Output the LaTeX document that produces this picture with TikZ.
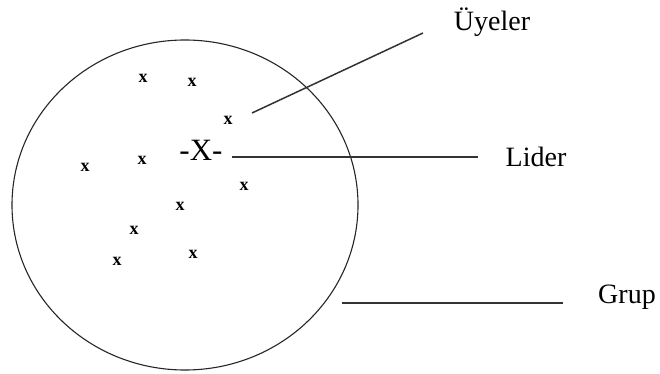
\documentclass[tikz,border=0pt]{standalone}
\usepackage{fontspec}
\setmainfont{Liberation Serif}
\begin{document}
\begin{tikzpicture}[x=1pt,y=-1pt,
  member/.style={font=\fontsize{18}{18}\selectfont\bfseries,inner sep=0pt},
  label/.style={font=\fontsize{28}{28}\selectfont,inner sep=0pt},
  leader/.style={font=\fontsize{31}{31}\selectfont,inner sep=0pt},
  pointer/.style={line width=1.5pt,draw=black!80}]
\useasboundingbox (0,0) rectangle (660,374);
\draw[line width=1.1pt,black!85] (185,205) ellipse [x radius=173, y radius=165];
% members
\node[member] (m1) at (143,78) {x};
\node[member] (m2) at (192,82) {x};
\node[member] (m3) at (228,120) {x};
\node[member] (m4) at (85,167) {x};
\node[member] (m5) at (142,160) {x};
\node[member] (m6) at (244,186) {x};
\node[member] (m7) at (180,206) {x};
\node[member] (m8) at (134,230) {x};
\node[member] (m9) at (117,261) {x};
\node[member] (m10) at (193,254) {x};
\node[leader] (lead) at (201,150) {-X-};
% labels
\node[label] (uy) at (492,22) {Üyeler};
\node[label] (li) at (536,157) {Lider};
\node[label] (gr) at (627,297) {Grup};
% pointer lines
\coordinate (u1) at (252,113);
\coordinate (u2) at (423,33);
\coordinate (l1) at (232,157);
\coordinate (l2) at (478,157);
\coordinate (g1) at (342,303);
\coordinate (g2) at (563,303);
\draw[pointer] (u1) -- (u2);
\draw[pointer] (l1) -- (l2);
\draw[pointer] (g1) -- (g2);
\end{tikzpicture}
\end{document}
